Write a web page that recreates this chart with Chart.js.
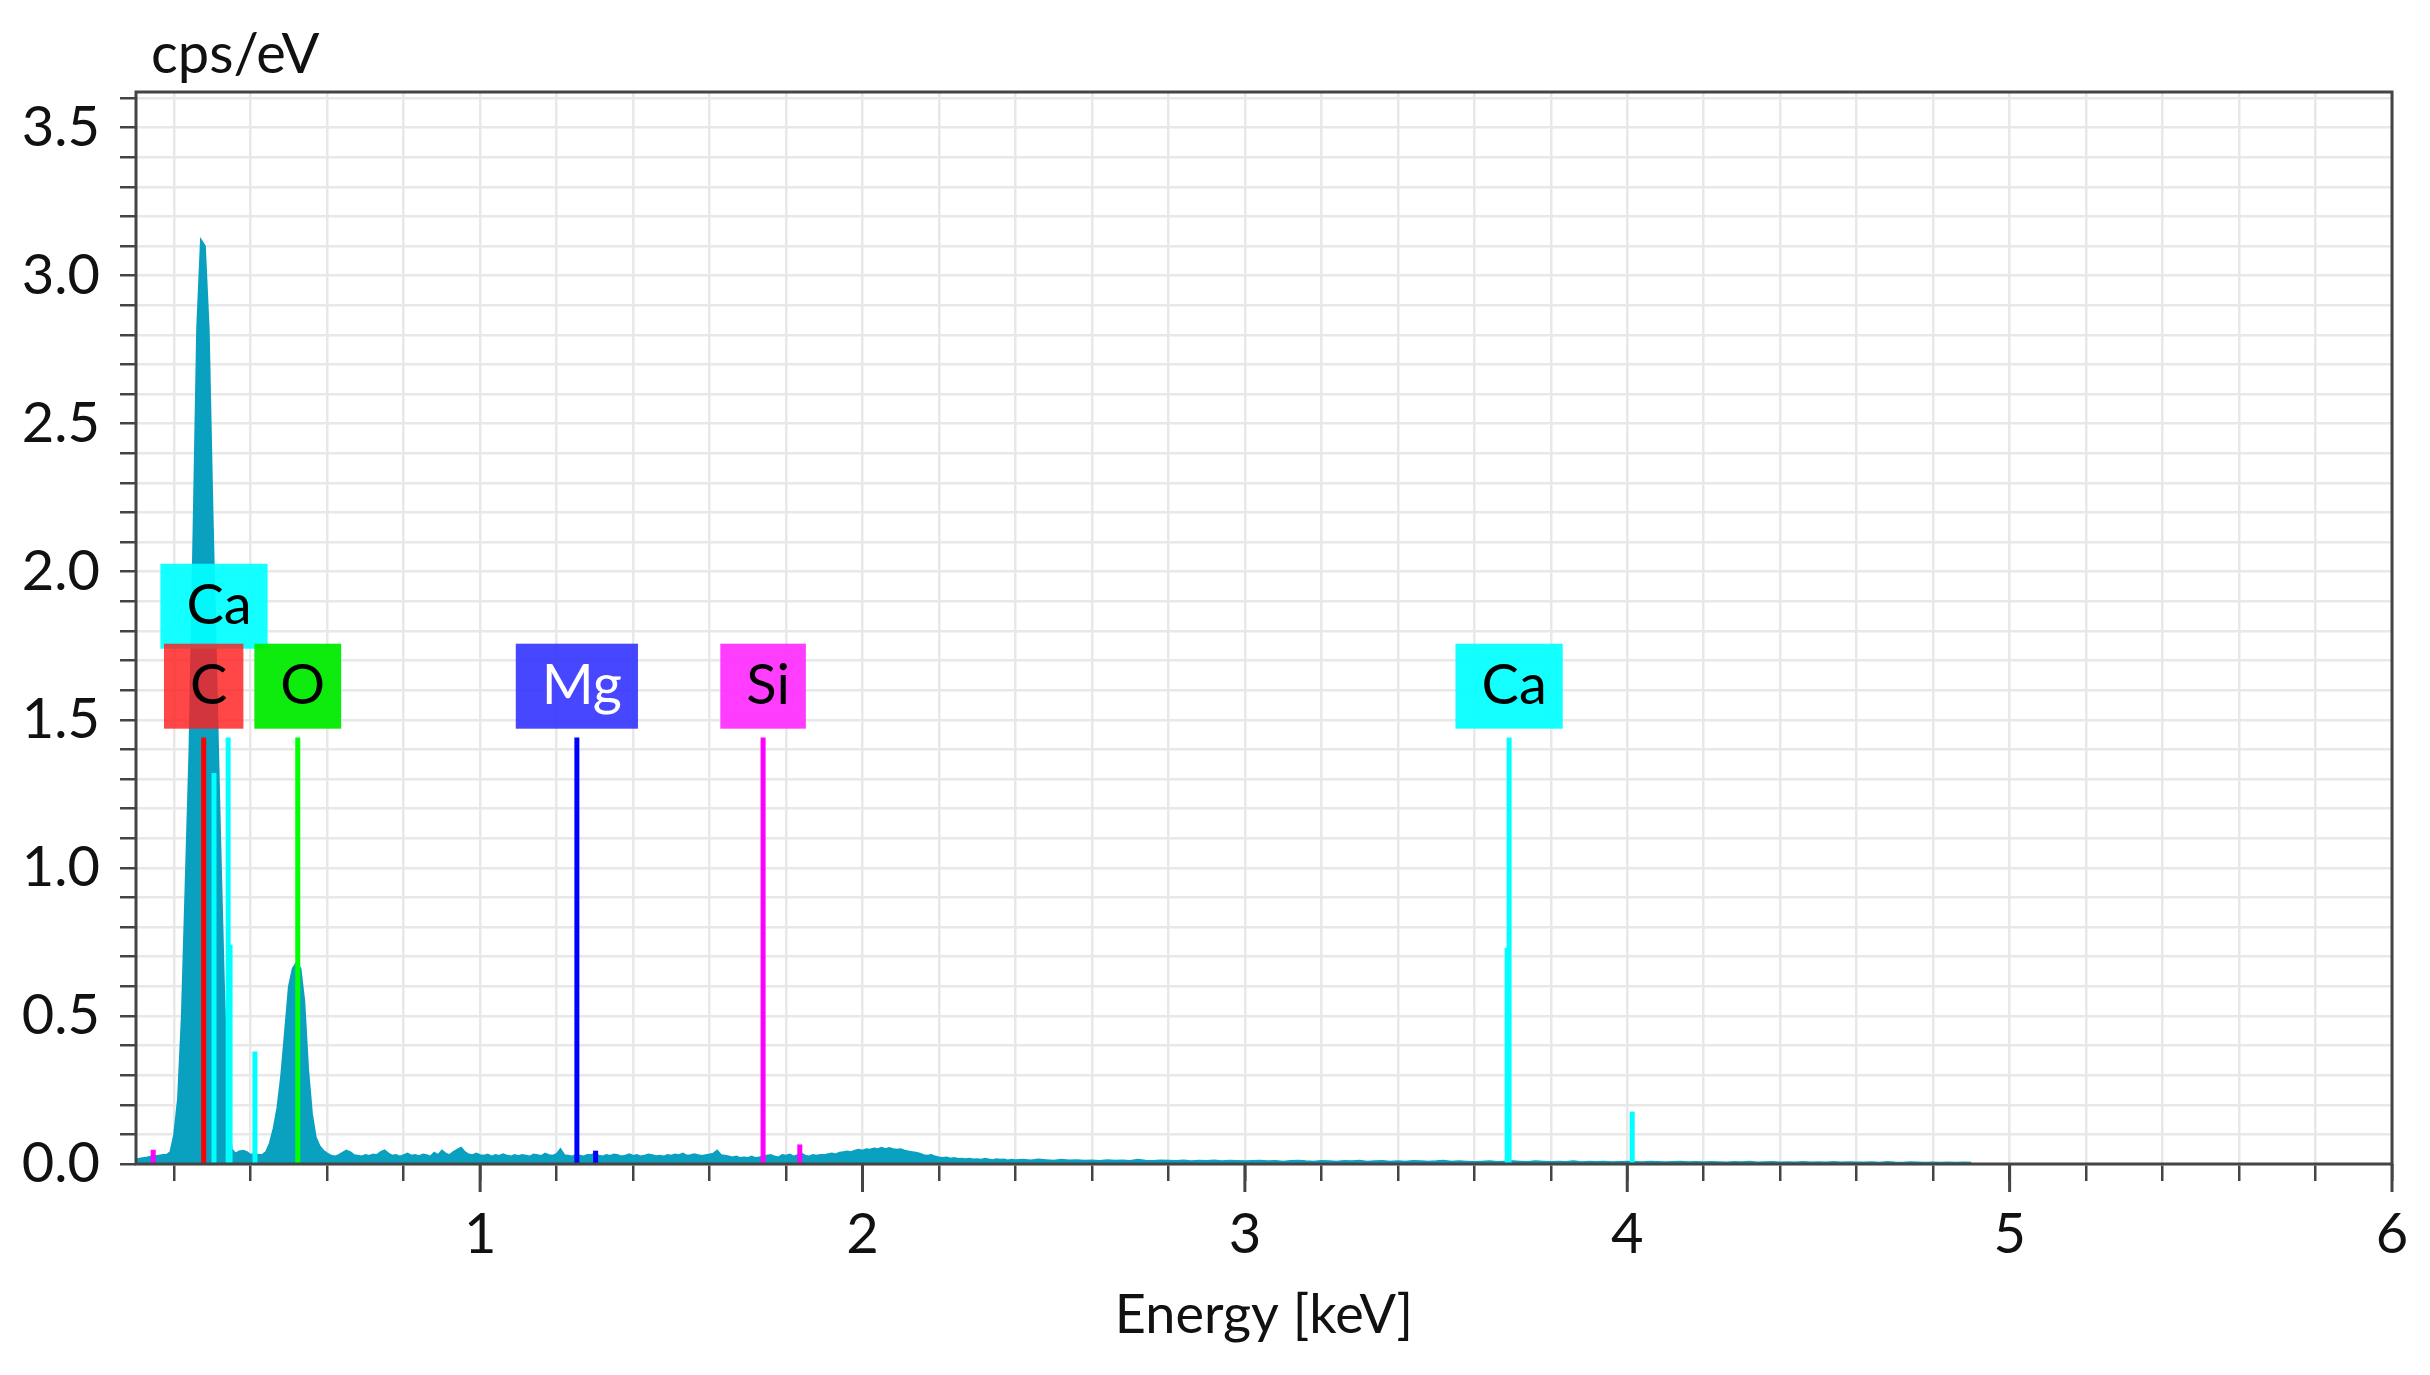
<!DOCTYPE html>
<html>
<head>
<meta charset="utf-8">
<script src="https://cdn.jsdelivr.net/npm/chart.js@4.4.1/dist/chart.umd.min.js"></script>
<style>
  html, body { margin: 0; padding: 0; background: #fff; }
  #wrap { width: 2430px; height: 1375px; position: relative; }
</style>
</head>
<body>
<div id="wrap"><canvas id="chart"></canvas></div>
<script>
// spectrum, channel 0.10 keV .. 2.40 keV every 10 eV
const lowStart = 0.10, lowStep = 0.01;
const lowCps = [
  0.015, 0.018, 0.02, 0.022, 0.025, 0.026, 0.028, 0.03, 0.03, 0.04,
  0.10, 0.22, 0.50, 0.95, 1.40, 2.10, 2.82, 3.12, 3.10, 2.82,
  2.20, 1.65, 1.10, 0.60, 0.20, 0.05, 0.035, 0.042, 0.045, 0.04,
  0.03, 0.035, 0.03, 0.03, 0.04, 0.07, 0.12, 0.19, 0.30, 0.45,
  0.60, 0.66, 0.68, 0.66, 0.55, 0.32, 0.17, 0.09, 0.06, 0.045,
  0.035, 0.028, 0.025, 0.03, 0.038, 0.045, 0.04, 0.03, 0.028, 0.025,
  0.03, 0.027, 0.032, 0.03, 0.04, 0.046, 0.035, 0.028, 0.03, 0.025,
  0.03, 0.035, 0.028, 0.03, 0.026, 0.032, 0.03, 0.025, 0.038, 0.03,
  0.045, 0.035, 0.03, 0.04, 0.048, 0.055, 0.04, 0.032, 0.03, 0.035,
  0.03, 0.028, 0.032, 0.025, 0.03, 0.027, 0.033, 0.028, 0.025, 0.03,
  0.026, 0.03, 0.028, 0.025, 0.032, 0.03, 0.027, 0.035, 0.03, 0.028,
  0.033, 0.05, 0.03, 0.028, 0.025, 0.03, 0.028, 0.025, 0.03, 0.03,
  0.035, 0.028, 0.025, 0.03, 0.027, 0.032, 0.03, 0.025, 0.028, 0.033,
  0.027, 0.03, 0.025, 0.028, 0.032, 0.03, 0.026, 0.028, 0.025, 0.03,
  0.028, 0.032, 0.03, 0.035, 0.028, 0.03, 0.033, 0.03, 0.027, 0.03,
  0.032, 0.035, 0.045, 0.03, 0.028, 0.025, 0.022, 0.025, 0.02, 0.022,
  0.02, 0.025, 0.02, 0.022, 0.025, 0.028, 0.03, 0.025, 0.022, 0.03,
  0.028, 0.032, 0.025, 0.03, 0.035, 0.028, 0.025, 0.03, 0.028, 0.03,
  0.03, 0.033, 0.035, 0.032, 0.038, 0.04, 0.042, 0.04, 0.045, 0.048,
  0.045, 0.05, 0.048, 0.052, 0.05, 0.055, 0.05, 0.054, 0.05, 0.048,
  0.05, 0.045, 0.042, 0.04, 0.038, 0.035, 0.03, 0.028, 0.03, 0.025,
  0.022, 0.02, 0.022, 0.018, 0.02, 0.017, 0.018, 0.016, 0.018, 0.015,
  0.016, 0.014, 0.018, 0.015, 0.013, 0.016, 0.014, 0.015, 0.012, 0.014,
  0.013
];
// spectrum, 2.42 keV .. 4.90 keV every 20 eV
const highStart = 2.42, highStep = 0.02;
const highCps = [
  0.014, 0.012, 0.015, 0.013, 0.011, 0.014, 0.012, 0.013, 0.011, 0.012,
  0.01, 0.013, 0.011, 0.012, 0.01, 0.014, 0.011, 0.01, 0.012, 0.011,
  0.01, 0.012, 0.009, 0.011, 0.01, 0.012, 0.009, 0.011, 0.01, 0.009,
  0.01, 0.011, 0.009, 0.01, 0.008, 0.01, 0.011, 0.009, 0.008, 0.01,
  0.009, 0.008, 0.01, 0.009, 0.011, 0.008, 0.009, 0.01, 0.008, 0.009,
  0.008, 0.01, 0.009, 0.008, 0.009, 0.011, 0.008, 0.009, 0.008, 0.007,
  0.008, 0.009, 0.007, 0.008, 0.009, 0.008, 0.007, 0.009, 0.008, 0.007,
  0.008, 0.007, 0.009, 0.006, 0.008, 0.007, 0.008, 0.006, 0.007, 0.008,
  0.007, 0.006, 0.008, 0.007, 0.006, 0.007, 0.008, 0.006, 0.007, 0.006,
  0.007, 0.006, 0.005, 0.007, 0.006, 0.008, 0.005, 0.006, 0.007, 0.005,
  0.006, 0.005, 0.007, 0.005, 0.006, 0.005, 0.007, 0.005, 0.006, 0.005,
  0.005, 0.006, 0.004, 0.007, 0.005, 0.004, 0.006, 0.005, 0.004, 0.005,
  0.004, 0.005, 0.004, 0.005, 0.004
];

// element marker lines
const lineElement = ['Si', 'C', 'Ca', 'Ca', 'Ca', 'Ca', 'O', 'Mg', 'Mg', 'Si', 'Si', 'Ca', 'Ca', 'Ca'];
const lineEnergy  = [0.145, 0.277, 0.304, 0.341, 0.346, 0.411, 0.523, 1.253, 1.302, 1.740, 1.836, 3.691, 3.686, 4.013];
const lineHeight  = [0.048, 1.44, 1.32, 1.44, 0.74, 0.38, 1.44, 1.44, 0.045, 1.44, 0.066, 1.44, 0.73, 0.177];

// element labels
const labelElement = ['Ca', 'C', 'O', 'Mg', 'Si', 'Ca'];
const labelEnergy  = [0.304, 0.277, 0.523, 1.253, 1.740, 3.691];
const labelRow     = [1, 0, 0, 0, 0, 0];

const yTicksMax = 3.62;

const lineColor = { Ca: '#00ffff', C: '#ff0000', O: '#00ff00', Mg: '#0000ff', Si: '#ff00ff' };
const boxColor = {
  Ca: 'rgba(0,255,255,0.92)', C: 'rgba(255,30,30,0.82)', O: 'rgba(0,235,0,0.95)',
  Mg: 'rgba(45,45,255,0.88)', Si: 'rgba(255,45,255,0.92)'
};
const boxText = { Ca: '#000', C: '#000', O: '#000', Mg: '#fff', Si: '#000' };

const FONT = 'Lato, "Open Sans", sans-serif';

const spectrum = [];
lowCps.forEach((v, i) => spectrum.push({ x: +(lowStart + i * lowStep).toFixed(3), y: v }));
highCps.forEach((v, i) => spectrum.push({ x: +(highStart + i * highStep).toFixed(3), y: v }));

const datasets = lineElement.map((el, i) => ({
  data: [{ x: lineEnergy[i], y: 0 }, { x: lineEnergy[i], y: lineHeight[i] }],
  borderColor: lineColor[el],
  borderWidth: 5,
  pointRadius: 0,
  fill: false,
  order: 1
}));
datasets.push({
  data: spectrum,
  borderColor: 'rgb(10,160,192)',
  backgroundColor: 'rgb(10,160,192)',
  borderWidth: 2,
  pointRadius: 0,
  tension: 0,
  fill: 'origin',
  order: 10
});

const isWhole = (v, k) => Math.abs(v * k - Math.round(v * k)) < 1e-6;

const decor = {
  id: 'decor',
  afterDatasetsDraw(chart) {
    const { ctx, chartArea: a, scales: { x, y } } = chart;
    ctx.save();
    // frame
    ctx.strokeStyle = '#444';
    ctx.lineWidth = 3;
    ctx.strokeRect(a.left, a.top, a.right - a.left, a.bottom - a.top);
    // longer ticks for whole keV
    for (let v = 1; v <= 6; v++) {
      const px = x.getPixelForValue(v);
      ctx.beginPath();
      ctx.moveTo(px, a.bottom);
      ctx.lineTo(px, a.bottom + 28);
      ctx.stroke();
    }
    // unit label
    ctx.fillStyle = '#111';
    ctx.font = '56px ' + FONT;
    ctx.textAlign = 'left';
    ctx.textBaseline = 'alphabetic';
    ctx.fillText('cps/eV', 151, 73);
    // element boxes
    const rowBottom = [1.47, 1.74];
    labelElement.forEach((el, i) => {
      const cx = x.getPixelForValue(labelEnergy[i]);
      const bottom = y.getPixelForValue(rowBottom[labelRow[i]]);
      const h = 85;
      const w = ctx.measureText(el).width + 42;
      ctx.fillStyle = boxColor[el];
      ctx.fillRect(cx - w / 2, bottom - h, w, h);
      ctx.fillStyle = boxText[el];
      ctx.textAlign = 'center';
      ctx.fillText(el, cx + 5, bottom - 25);
    });
    ctx.restore();
  }
};

new Chart(document.getElementById('chart'), {
  type: 'line',
  data: { datasets },
  plugins: [decor],
  options: {
    responsive: true,
    maintainAspectRatio: false,
    devicePixelRatio: 1,
    animation: false,
    layout: { padding: { top: 92, right: 38, left: 0, bottom: 0 } },
    plugins: { legend: { display: false }, tooltip: { enabled: false } },
    scales: {
      x: {
        type: 'linear',
        min: 0.1,
        max: 6,
        border: { display: false },
        grid: { color: '#e8e8e8', lineWidth: 2.5, tickLength: 17, tickColor: '#444', tickWidth: 2.5 },
        ticks: {
          stepSize: 0.2,
          includeBounds: false,
          autoSkip: false,
          maxRotation: 0,
          padding: 20,
          color: '#111',
          font: { family: FONT, size: 56 },
          callback: v => isWhole(v, 1) ? String(Math.round(v)) : ''
        },
        title: {
          display: true,
          text: 'Energy [keV]',
          color: '#111',
          font: { family: FONT, size: 54 },
          padding: { top: 0, bottom: 27 }
        },
        afterFit: s => { s.height = 211; }
      },
      y: {
        min: 0,
        max: yTicksMax,
        border: { display: false },
        grid: { color: '#e8e8e8', lineWidth: 2.5, tickLength: 16, tickColor: '#444', tickWidth: 2.5 },
        ticks: {
          stepSize: 0.1,
          includeBounds: false,
          autoSkip: false,
          padding: 20,
          color: '#111',
          font: { family: FONT, size: 56 },
          callback: v => isWhole(v, 2) ? v.toFixed(1) : ''
        },
        afterFit: s => { s.width = 136; }
      }
    }
  }
});
</script>
</body>
</html>
